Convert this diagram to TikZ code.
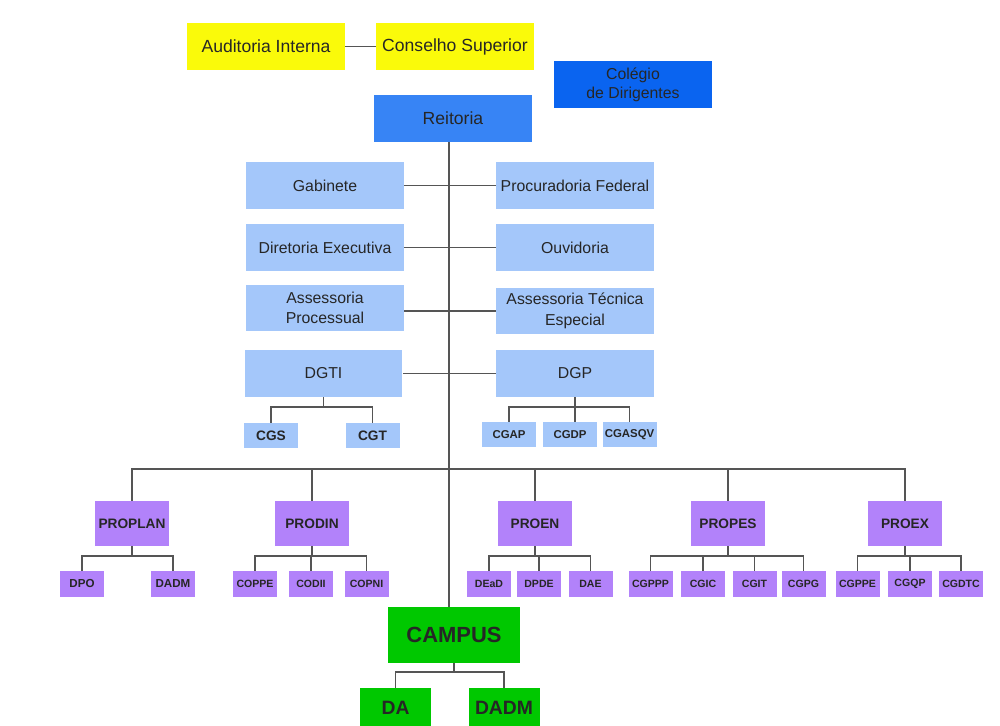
\documentclass[tikz,border=0pt]{standalone}
\usepackage{fontspec}
\setmainfont{Liberation Sans}
\definecolor{amarelo}{RGB}{250,250,10}
\definecolor{azulreit}{RGB}{55,132,245}
\definecolor{azulcol}{RGB}{10,100,240}
\definecolor{azulclaro}{RGB}{164,199,250}
\definecolor{roxo}{RGB}{178,130,250}
\definecolor{verde}{RGB}{0,200,0}
\definecolor{linha}{RGB}{85,85,85}
\begin{document}
\begin{tikzpicture}[x=0.02cm,y=-0.02cm,
		caixa/.style={inner sep=0pt,align=center,text=black!85},
		topo/.style={caixa,fill=amarelo,minimum width=3.16cm,minimum height=0.94cm,font=\fontsize{10}{12}\selectfont},
		reit/.style={caixa,fill=azulreit,minimum width=3.16cm,minimum height=0.94cm,font=\fontsize{10}{12}\selectfont},
		orgao/.style={caixa,fill=azulclaro,minimum width=3.16cm,minimum height=0.94cm,font=\fontsize{9}{11.7}\selectfont},
		coord/.style={caixa,fill=azulclaro,minimum width=1.08cm,minimum height=0.5cm,font=\bfseries\fontsize{6.5}{8}\selectfont},
		pro/.style={caixa,fill=roxo,minimum width=1.48cm,minimum height=0.9cm,font=\bfseries\fontsize{7.8}{9}\selectfont},
		dir/.style={caixa,fill=roxo,minimum width=0.88cm,minimum height=0.52cm,font=\bfseries\fontsize{6}{7}\selectfont},
		campi/.style={caixa,fill=verde,font=\bfseries},
		liga/.style={draw=linha,line width=0.8pt}]
				\useasboundingbox[fill=white] (0,0) rectangle (1000,726);
				\node[topo] (auditoria) at (266,46.5){Auditoria Interna};
				\node[topo] (conselho) at (455,46.5){Conselho Superior};
				\node[reit,fill=azulcol,font=\fontsize{9}{10.8}\selectfont] (colegio) at (633,84.5){Colégio\\de Dirigentes};
				\node[reit] (reitoria) at (453,118.5){Reitoria};
				\node[orgao] (gabinete) at (325,185.5){Gabinete};
				\node[orgao] (procuradoria) at (575,185.5){Procuradoria Federal};
				\node[orgao] (diretoria) at (325,247.5){Diretoria Executiva};
				\node[orgao] (ouvidoria) at (575,247.5){Ouvidoria};
				\node[orgao] (asproc) at (325,308){Assessoria\\Processual};
				\node[orgao] (astec) at (575,311){Assessoria Técnica\\Especial};
				\node[orgao] (dgti) at (323.5,373.5){DGTI};
				\node[orgao] (dgp) at (575,373.5){DGP};
				\node[coord,font=\bfseries\fontsize{7.8}{9}\selectfont] (cgs) at (271,435.5){CGS};
				\node[coord,font=\bfseries\fontsize{7.8}{9}\selectfont] (cgt) at (372.5,435.5){CGT};
				\node[coord] (cgap) at (509,434.5){CGAP};
				\node[coord] (cgdp) at (570,434.5){CGDP};
				\node[coord] (cgasqv) at (629.5,434.5){CGASQV};
				\node[pro] (proplan) at (132,523.5){PROPLAN};
				\node[pro] (prodin) at (312,523.5){PRODIN};
				\node[pro] (proen) at (535,523.5){PROEN};
				\node[pro] (propes) at (728,523.5){PROPES};
				\node[pro] (proex) at (905,523.5){PROEX};
				\node[dir,font=\bfseries\fontsize{6.6}{8}\selectfont] (dpo) at (82,584){DPO};
				\node[dir,font=\bfseries\fontsize{6.6}{8}\selectfont] (dadm) at (173,584){DADM};
				\node[dir] (coppe) at (255,584){COPPE};
				\node[dir] (codii) at (311,584){CODII};
				\node[dir] (copni) at (366.5,584){COPNI};
				\node[dir] (dead) at (489,584){DEaD};
				\node[dir] (dpde) at (539,584){DPDE};
				\node[dir] (dae) at (590.5,584){DAE};
				\node[dir] (cgppp) at (650.5,584){CGPPP};
				\node[dir] (cgic) at (703,584){CGIC};
				\node[dir] (cgit) at (754.5,584){CGIT};
				\node[dir] (cgpg) at (803.5,584){CGPG};
				\node[dir] (cgppe) at (857.5,584){CGPPE};
				\node[dir] (cgqp) at (910,584){CGQP};
				\node[dir] (cgdtc) at (961,584){CGDTC};
				\node[campi,minimum width=2.64cm,minimum height=1.12cm,font=\bfseries\fontsize{12.5}{14}\selectfont] (campus) at (454,635){CAMPUS};
				\node[campi,minimum width=1.42cm,minimum height=0.8cm,font=\bfseries\fontsize{11}{13}\selectfont] (da) at (395.5,708){DA};
				\node[campi,minimum width=1.42cm,minimum height=0.8cm,font=\bfseries\fontsize{11}{13}\selectfont] (dadmc) at (504,708){DADM};
				\coordinate (tronco) at (449,469);
				\coordinate (dgtibus) at (323.5,407);
				\coordinate (dgpbus) at (575,407);
				\coordinate (proplanbus) at (132,556);
				\coordinate (prodinbus) at (312,556);
				\coordinate (proenbus) at (535,556);
				\coordinate (propesbus) at (728,556);
				\coordinate (proexbus) at (905,556);
				\coordinate (campusbus) at (454,672);
				\draw[liga] (auditoria) -- (conselho);
				\draw[liga] (reitoria.south -| tronco) -- (campus.north -| tronco);
				\draw[liga] (gabinete) -- (procuradoria);
				\draw[liga] (diretoria) -- (ouvidoria);
				\draw[liga] (asproc.east |- astec) -- (astec);
				\draw[liga] (dgti) -- (dgp);
				\draw[liga] (dgti) -- (dgtibus);
				\draw[liga] (dgtibus) -| (cgs);
				\draw[liga] (dgtibus) -| (cgt);
				\draw[liga] (dgp) -- (dgpbus);
				\draw[liga] (dgpbus) -| (cgap);
				\draw[liga] (dgpbus) -- (cgdp.north -| dgpbus);
				\draw[liga] (dgpbus) -| (cgasqv);
				\draw[liga] (tronco) -| (proplan);
				\draw[liga] (tronco) -| (prodin);
				\draw[liga] (tronco) -| (proen);
				\draw[liga] (tronco) -| (propes);
				\draw[liga] (tronco) -| (proex);
				\draw[liga] (proplan) -- (proplanbus);
				\draw[liga] (proplanbus) -| (dpo);
				\draw[liga] (proplanbus) -| (dadm);
				\draw[liga] (prodin) -- (prodinbus);
				\draw[liga] (prodinbus) -| (coppe);
				\draw[liga] (prodinbus) -| (codii);
				\draw[liga] (prodinbus) -| (copni);
				\draw[liga] (proen) -- (proenbus);
				\draw[liga] (proenbus) -| (dead);
				\draw[liga] (proenbus) -| (dpde);
				\draw[liga] (proenbus) -| (dae);
				\draw[liga] (propes) -- (propesbus);
				\draw[liga] (propesbus) -| (cgppp);
				\draw[liga] (propesbus) -| (cgic);
				\draw[liga] (propesbus) -| (cgit);
				\draw[liga] (propesbus) -| (cgpg);
				\draw[liga] (proex) -- (proexbus);
				\draw[liga] (proexbus) -| (cgppe);
				\draw[liga] (proexbus) -| (cgqp);
				\draw[liga] (proexbus) -| (cgdtc);
				\draw[liga] (campus) -- (campusbus);
				\draw[liga] (campusbus) -| (da);
				\draw[liga] (campusbus) -| (dadmc);
			\end{tikzpicture}
\end{document}
